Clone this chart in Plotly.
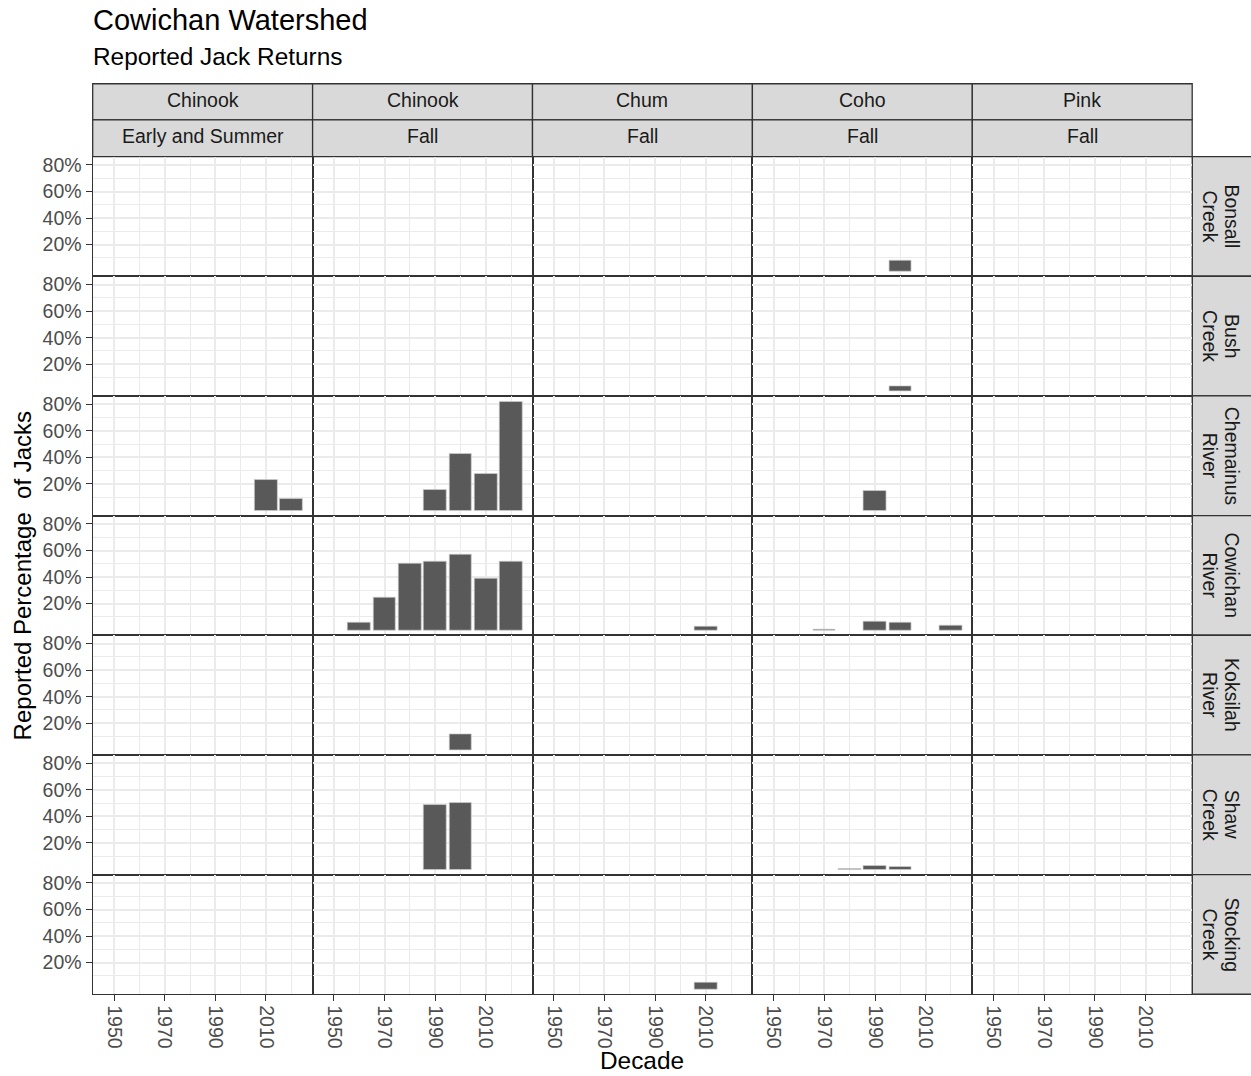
import plotly.graph_objects as go

W, H = 1251, 1076

# ---------------- data ----------------
decade_ticks = [1950, 1970, 1990, 2010]
decade_tick_labels = ["1950", "1970", "1990", "2010"]
decade_minor = [1960, 1980, 2000, 2020]
pct_ticks = [0.2, 0.4, 0.6, 0.8]
pct_tick_labels = ["20%", "40%", "60%", "80%"]
pct_minor = [0.1, 0.3, 0.5, 0.7]

col_species = ["Chinook", "Chinook", "Chum", "Coho", "Pink"]
col_runs = ["Early and Summer", "Fall", "Fall", "Fall", "Fall"]
rivers = ["Bonsall Creek", "Bush Creek", "Chemainus River", "Cowichan River",
          "Koksilah River", "Shaw Creek", "Stocking Creek"]

obs_river = ["Bonsall Creek", "Bush Creek",
             "Chemainus River", "Chemainus River",
             "Chemainus River", "Chemainus River", "Chemainus River", "Chemainus River",
             "Chemainus River",
             "Cowichan River", "Cowichan River", "Cowichan River", "Cowichan River",
             "Cowichan River", "Cowichan River", "Cowichan River",
             "Cowichan River",
             "Cowichan River", "Cowichan River", "Cowichan River", "Cowichan River",
             "Koksilah River",
             "Shaw Creek", "Shaw Creek",
             "Shaw Creek", "Shaw Creek", "Shaw Creek",
             "Stocking Creek"]
obs_species = ["Coho", "Coho",
               "Chinook", "Chinook",
               "Chinook", "Chinook", "Chinook", "Chinook",
               "Coho",
               "Chinook", "Chinook", "Chinook", "Chinook",
               "Chinook", "Chinook", "Chinook",
               "Chum",
               "Coho", "Coho", "Coho", "Coho",
               "Chinook",
               "Chinook", "Chinook",
               "Coho", "Coho", "Coho",
               "Chum"]
obs_run = ["Fall", "Fall",
           "Early and Summer", "Early and Summer",
           "Fall", "Fall", "Fall", "Fall",
           "Fall",
           "Fall", "Fall", "Fall", "Fall",
           "Fall", "Fall", "Fall",
           "Fall",
           "Fall", "Fall", "Fall", "Fall",
           "Fall",
           "Fall", "Fall",
           "Fall", "Fall", "Fall",
           "Fall"]
obs_decade = [2000, 2000,
              2010, 2020,
              1990, 2000, 2010, 2020,
              1990,
              1960, 1970, 1980, 1990,
              2000, 2010, 2020,
              2010,
              1970, 1990, 2000, 2020,
              2000,
              1990, 2000,
              1980, 1990, 2000,
              2010]
obs_pct = [0.08, 0.035,
           0.23, 0.09,
           0.152, 0.43, 0.277, 0.82,
           0.15,
           0.059, 0.242, 0.50, 0.52,
           0.568, 0.388, 0.516,
           0.025,
           0.003, 0.067, 0.059, 0.035,
           0.12,
           0.488, 0.503,
           0.003, 0.024, 0.02,
           0.05]

# ---------------- layout geometry ----------------
PX0, PW = 92.7, 219.9      # panel left, panel width
PY0, PH = 154.0, 120.0     # panel top, panel height
NR, NC = len(rivers), len(col_species)
XR = [1941.55, 2028.45]
YR = [-0.0385, 0.8635]

FONT = "Liberation Sans, Arial, Helvetica, sans-serif"
GRID = "#ebebeb"
DARK = "#333333"
TXT = "#4d4d4d"


def fx(px):
    return px / W


def fy(py):
    return 1 - py / H


fig = go.Figure()
layout = dict(
    width=W, height=H, margin=dict(l=0, r=0, t=0, b=0),
    paper_bgcolor="white", plot_bgcolor="white",
    showlegend=False, font=dict(family=FONT),
    bargap=0,
)

for r, river in enumerate(rivers):
    for c in range(NC):
        k = r * NC + c + 1
        xs, ys = [], []
        for i in range(len(obs_pct)):
            if (obs_river[i] == river and obs_species[i] == col_species[c]
                    and obs_run[i] == col_runs[c]):
                xs.append(obs_decade[i])
                ys.append(obs_pct[i])
        suffix = "" if k == 1 else str(k)
        if xs:
            fig.add_trace(go.Bar(
                x=xs, y=ys, width=9,
                marker=dict(color="#595959", line=dict(color="#cfcfcf", width=0.7)),
                xaxis="x" + suffix, yaxis="y" + suffix, hoverinfo="skip",
            ))
        else:
            fig.add_trace(go.Scatter(x=[None], y=[None], mode="markers",
                                     xaxis="x" + suffix, yaxis="y" + suffix,
                                     hoverinfo="skip"))
        x0 = PX0 + c * PW
        y0 = PY0 + r * PH
        bottom = (r == NR - 1)
        left = (c == 0)
        layout["xaxis" + suffix] = dict(
            domain=[fx(x0), fx(x0 + PW)], anchor="y" + suffix, range=XR,
            tickmode="array", tickvals=decade_ticks, ticktext=decade_tick_labels,
            showticklabels=bottom, ticks="outside" if bottom else "",
            ticklen=6, tickwidth=1.2, tickcolor=DARK, tickangle=90,
            tickfont=dict(size=19.5, color=TXT, family=FONT),
            showgrid=True, gridcolor=GRID, gridwidth=1.6,
            minor=dict(tickvals=decade_minor, showgrid=True, gridcolor=GRID,
                       gridwidth=1.1, ticks=""),
            zeroline=False, showline=True, linecolor=DARK, linewidth=1.3,
            mirror=True, fixedrange=True,
        )
        layout["yaxis" + suffix] = dict(
            domain=[fy(y0 + PH), fy(y0)], anchor="x" + suffix, range=YR,
            tickmode="array", tickvals=pct_ticks, ticktext=pct_tick_labels,
            showticklabels=left, ticks="outside" if left else "",
            ticklen=6, tickwidth=1.2, tickcolor=DARK,
            tickfont=dict(size=19.5, color=TXT, family=FONT),
            showgrid=True, gridcolor=GRID, gridwidth=1.6,
            minor=dict(tickvals=pct_minor, showgrid=True, gridcolor=GRID,
                       gridwidth=1.1, ticks=""),
            zeroline=False, showline=True, linecolor=DARK, linewidth=1.3,
            mirror=True, fixedrange=True,
        )

shapes = []
annotations = []
STRIP = "#d9d9d9"
STRIP_TXT = "#1a1a1a"

# top strips
ST_TOP, ST_MID, ST_BOT = 81.0, 117.3, 154.0
for c in range(NC):
    x0 = PX0 + c * PW
    for (ya, yb, label) in [(ST_TOP, ST_MID, col_species[c]), (ST_MID, ST_BOT, col_runs[c])]:
        shapes.append(dict(type="rect", xref="paper", yref="paper",
                           x0=fx(x0), x1=fx(x0 + PW), y0=fy(yb), y1=fy(ya),
                           fillcolor=STRIP, line=dict(color=DARK, width=1.3), layer="below"))
        annotations.append(dict(xref="paper", yref="paper", x=fx(x0 + PW / 2),
                                y=fy((ya + yb) / 2 - 2), text=label, showarrow=False,
                                xanchor="center", yanchor="middle",
                                font=dict(size=19.5, color=STRIP_TXT, family=FONT)))

# right strips
SX0 = PX0 + NC * PW
for r, river in enumerate(rivers):
    y0 = PY0 + r * PH
    shapes.append(dict(type="rect", xref="paper", yref="paper",
                       x0=fx(SX0), x1=fx(W + 5), y0=fy(y0 + PH), y1=fy(y0),
                       fillcolor=STRIP, line=dict(color=DARK, width=1.3), layer="below"))
    words = river.split(" ")
    for j, wd in enumerate(words):
        annotations.append(dict(xref="paper", yref="paper", x=fx(1232 - 22 * j),
                                y=fy(y0 + PH / 2), text=wd, showarrow=False,
                                textangle=90, xanchor="center", yanchor="middle",
                                font=dict(size=19.5, color=STRIP_TXT, family=FONT)))

# titles
annotations.append(dict(xref="paper", yref="paper", x=fx(91), y=fy(17),
                        text="Cowichan Watershed", showarrow=False,
                        xanchor="left", yanchor="middle",
                        font=dict(size=29, color="black", family=FONT)))
annotations.append(dict(xref="paper", yref="paper", x=fx(91), y=fy(54),
                        text="Reported Jack Returns", showarrow=False,
                        xanchor="left", yanchor="middle",
                        font=dict(size=24.4, color="black", family=FONT)))
annotations.append(dict(xref="paper", yref="paper", x=fx(PX0 + NC * PW / 2), y=fy(1060),
                        text="Decade", showarrow=False,
                        xanchor="center", yanchor="middle",
                        font=dict(size=24.4, color="black", family=FONT)))
annotations.append(dict(xref="paper", yref="paper", x=fx(22), y=fy(PY0 + NR * PH / 2),
                        text="Reported Percentage  of Jacks", showarrow=False,
                        textangle=-90, xanchor="center", yanchor="middle",
                        font=dict(size=24, color="black", family=FONT)))

layout["shapes"] = shapes
layout["annotations"] = annotations
fig.update_layout(**layout)
fig.write_html("out.html")
